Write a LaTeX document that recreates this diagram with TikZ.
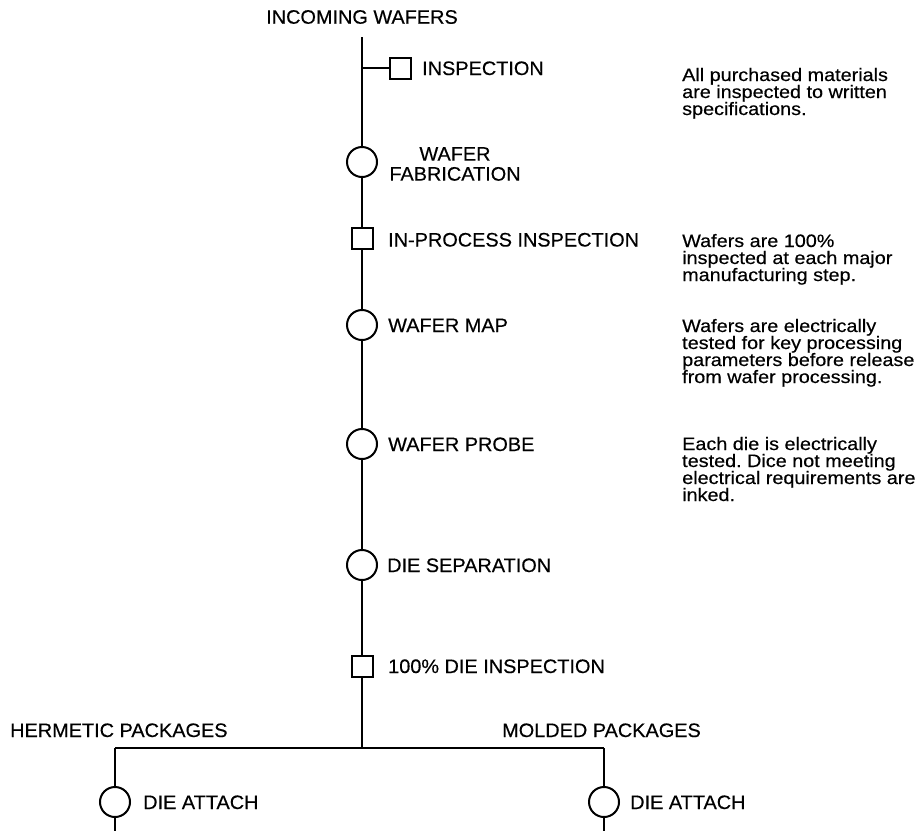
\documentclass[tikz,border=0pt]{standalone}
\usepackage{fontspec}
\setmainfont{Liberation Sans}
\frenchspacing
\newfontfamily\labelfont[FakeStretch=1.02,FakeBold=0.4]{Liberation Sans}
\newfontfamily\notefont[FakeStretch=1.1,FakeBold=0.4]{Liberation Sans}
% stacked lines with a fixed baseline distance; baseline = first line
\newcommand{\notestack}[1]{\vtop{\baselineskip=17pt\lineskiplimit=-100pt\lineskip=0pt #1}}
\newcommand{\noteline}[1]{\hbox{#1}}
\begin{document}
\begin{tikzpicture}[x=1pt,y=-1pt,
  flow/.style={line width=2pt,black},
  opstep/.style={circle,draw,line width=2pt,minimum size=30pt,inner sep=0pt},
  inspstep/.style={rectangle,draw,line width=2pt,minimum size=21pt,inner sep=0pt},
  lbl/.style={anchor=base west,inner sep=0pt,font=\labelfont\fontsize{19.5}{20}\selectfont},
  note/.style={anchor=base west,inner sep=0pt,font=\notefont\fontsize{18}{17}\selectfont}]
\useasboundingbox (0,0) rectangle (921,831);

% main process column
\node[inner sep=0pt,font=\labelfont\fontsize{19.5}{20}\selectfont] (incoming) at (362,17) {INCOMING WAFERS};
\coordinate (top) at (362,37);
\coordinate (tap) at (362,68);
\node[inspstep] (insp) at (400,68) {};
\node[opstep] (fab) at (362,162) {};
\node[inspstep] (inproc) at (362,238) {};
\node[opstep] (map) at (362,325) {};
\node[opstep] (probe) at (362,444) {};
\node[opstep] (sep) at (362,565) {};
\node[inspstep] (dieinsp) at (362,666) {};
\coordinate (split) at (362,748);

% package branches
\coordinate (hleft) at (115,748);
\coordinate (hright) at (604,748);
\node[opstep] (attachH) at (115,802) {};
\node[opstep] (attachM) at (604,802) {};
\coordinate (endH) at (115,831);
\coordinate (endM) at (604,831);

% connectors
\draw[flow] (top) -- (fab);
\draw[flow] (tap) -- (insp);
\draw[flow] (fab) -- (inproc);
\draw[flow] (inproc) -- (map);
\draw[flow] (map) -- (probe);
\draw[flow] (probe) -- (sep);
\draw[flow] (sep) -- (dieinsp);
\draw[flow] (dieinsp) -- (split);
\draw[line width=2.5pt] (hleft) -- (hright);
\draw[flow] (hleft) -- (attachH);
\draw[flow] (hright) -- (attachM);
\draw[flow] (attachH) -- (endH);
\draw[flow] (attachM) -- (endM);

% step labels
\node[lbl] (linsp) at (422,75) {INSPECTION};
\node[anchor=north,inner sep=0pt,align=center,font=\labelfont\fontsize{19.5}{20}\selectfont] (lfab) at (455,147) {WAFER\\FABRICATION};
\node[lbl] (linproc) at (388,246.5) {IN-PROCESS INSPECTION};
\node[lbl] (lmap) at (388,332) {WAFER MAP};
\node[lbl] (lprobe) at (388,451) {WAFER PROBE};
\node[lbl] (lsep) at (387,572) {DIE SEPARATION};
\node[lbl] (ldieinsp) at (388,673) {100\% DIE INSPECTION};
\node[lbl] (lherm) at (10,737) {HERMETIC PACKAGES};
\node[lbl] (lmold) at (502,737) {MOLDED PACKAGES};
\node[lbl] (lattH) at (143,809) {DIE ATTACH};
\node[lbl] (lattM) at (630,809) {DIE ATTACH};

% explanatory notes
\node[note] (n1) at (682,81) {\notestack{\noteline{All purchased materials}\noteline{are inspected to written}\noteline{specifications.}}};
\node[note] (n2) at (682,247) {\notestack{\noteline{Wafers are 100\%}\noteline{inspected at each major}\noteline{manufacturing step.}}};
\node[note] (n3) at (682,332) {\notestack{\noteline{Wafers are electrically}\noteline{tested for key processing}\noteline{parameters before release}\noteline{from wafer processing.}}};
\node[note] (n4) at (682,450) {\notestack{\noteline{Each die is electrically}\noteline{tested. Dice not meeting}\noteline{electrical requirements are}\noteline{inked.}}};
\end{tikzpicture}
\end{document}
